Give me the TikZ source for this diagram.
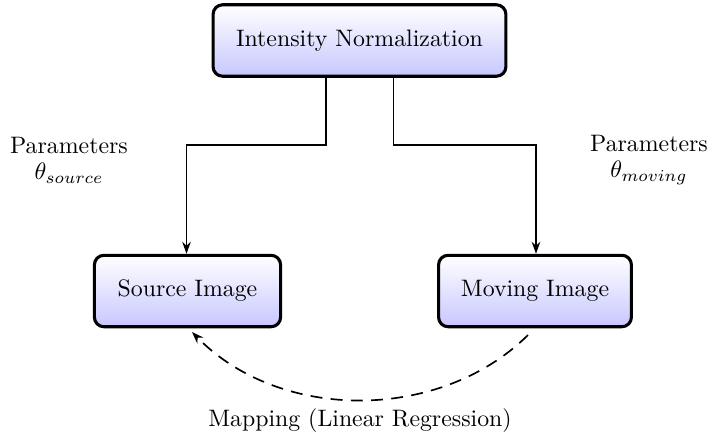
\documentclass[tikz,border=0pt]{standalone}
\usetikzlibrary{arrows.meta}
\begin{document}
\begin{tikzpicture}[x=0.42pt,y=-0.42pt,
  procbox/.style={draw=black, line width=1.3pt, rounded corners=4pt, top color=white, bottom color=blue!22, minimum height=30pt, align=center, font=\normalsize},
  conn/.style={semithick, -{Stealth[length=5pt,width=3.6pt]}},
  mapconn/.style={line width=0.7pt, dash pattern=on 5pt off 3.5pt, -{Stealth[length=5pt,width=3.6pt]}},
  plabel/.style={align=center, font=\normalsize}
]
\useasboundingbox (0,0) rectangle (708,436);
\node[procbox, minimum width=123pt] (norm) at (359.5,40.5) {Intensity Normalization};
\node[procbox, minimum width=78.2pt] (src) at (187.5,291) {Source Image};
\node[procbox, minimum width=81pt] (mov) at (535,291) {Moving Image};
\coordinate (nl) at (326,76);
\coordinate (nr) at (393.5,76);
\draw[conn] (norm.south -| nl) |- (186.5,145) -- (src.north -| 186.5,0);
\draw[conn] (norm.south -| nr) |- (536,145) -- (mov.north -| 536,0);
\node[plabel] (ps) at (69,160) {Parameters\\[-1pt]$\theta_{source}$};
\node[plabel] (pm) at (649,160) {Parameters\\[-1pt]$\theta_{moving}$};
\coordinate (ms) at (528,335);
\coordinate (se) at (192,332);
\draw[mapconn] (ms) .. controls (440,422) and (280,422) .. (se);
\node[plabel] (map) at (360,421) {Mapping (Linear Regression)};
\end{tikzpicture}
\end{document}
